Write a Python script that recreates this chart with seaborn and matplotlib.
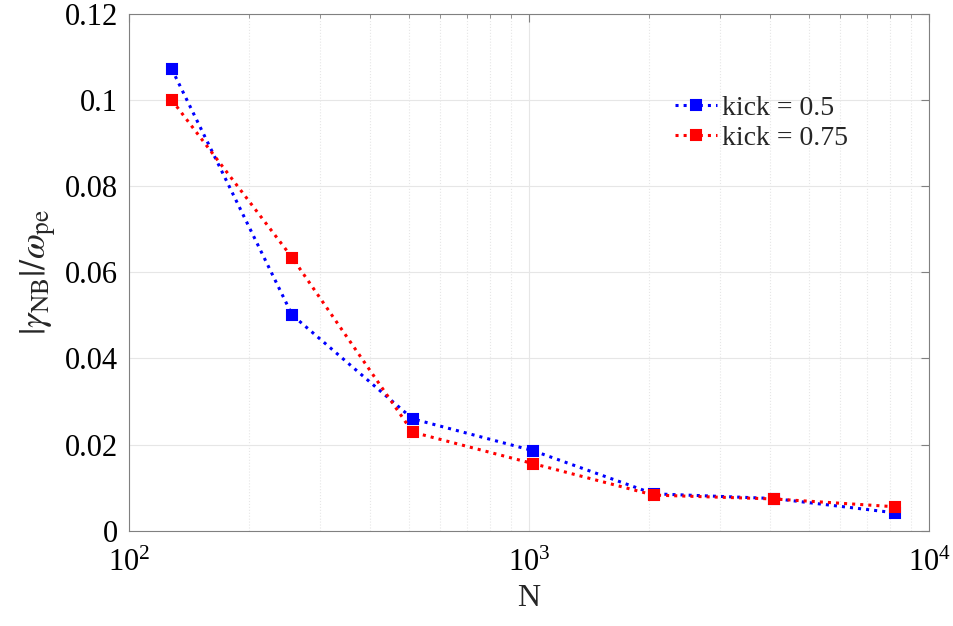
import pandas as pd
import numpy as np
import matplotlib.pyplot as plt
import seaborn as sns
from matplotlib.ticker import LogLocator, NullFormatter

# datos
N = [128, 256, 512, 1024, 2048, 4096, 8192]
kick_05 = [0.1072, 0.0501, 0.0260, 0.0186, 0.0086, 0.0075, 0.0042]
kick_075 = [0.1000, 0.0634, 0.0229, 0.0156, 0.0083, 0.0074, 0.0056]

df = pd.DataFrame({
    "N": N * 2,
    "gamma": kick_05 + kick_075,
    "serie": ["kick = 0.5"] * len(N) + ["kick = 0.75"] * len(N),
})

sns.set_style("white")
plt.rcParams['font.family'] = ['Liberation Serif', 'DejaVu Serif']
plt.rcParams['mathtext.fontset'] = 'stix'

fig = plt.figure(figsize=(9.54, 6.26), dpi=100)
ax = fig.add_axes([0.135, 0.152, 0.839, 0.826])

colores = {"kick = 0.5": "#0000ff", "kick = 0.75": "#ff0000"}
for nombre, sub in df.groupby("serie"):
    sns.lineplot(data=sub, x="N", y="gamma", ax=ax, color=colores[nombre],
                 linestyle=":", linewidth=2.2, marker="s", markersize=7.5,
                 markeredgecolor=colores[nombre], markeredgewidth=1.5,
                 label=nombre)

ax.set_xscale("log")
ax.set_xlim(100, 10000)
ax.set_ylim(0, 0.12)
ax.set_yticks([0, 0.02, 0.04, 0.06, 0.08, 0.1, 0.12])
ax.set_yticklabels(["0", "0.02", "0.04", "0.06", "0.08", "0.1", "0.12"])
ax.xaxis.set_minor_locator(LogLocator(base=10, subs=np.arange(2, 10)))
ax.xaxis.set_minor_formatter(NullFormatter())

ax.grid(True, which="major", color="#e6e6e6", linewidth=0.8)
ax.grid(True, which="minor", axis="x", color="#e6e6e6", linestyle=":", linewidth=0.8)
ax.set_axisbelow(True)

for s in ax.spines.values():
    s.set_color("#808080")
    s.set_linewidth(0.8)
ax.tick_params(which="both", direction="in", top=True, right=True,
               colors="#808080", labelcolor="black", labelsize=22)
ax.tick_params(which="major", length=6)
ax.tick_params(which="minor", length=3)
ax.tick_params(axis="x", pad=13)
ax.tick_params(axis="y", pad=8)

ax.set_xlabel("N", fontsize=23, labelpad=4)
ax.set_ylabel(r"$|\gamma_{\mathrm{NB}}|/\omega_{\mathrm{pe}}$", fontsize=26, labelpad=4)

ax.legend(loc="upper right", bbox_to_anchor=(0.93, 0.89), frameon=False,
          fontsize=20, handlelength=1.5, handletextpad=0.2, labelspacing=0.15)

plt.savefig("out.png", dpi=100)
